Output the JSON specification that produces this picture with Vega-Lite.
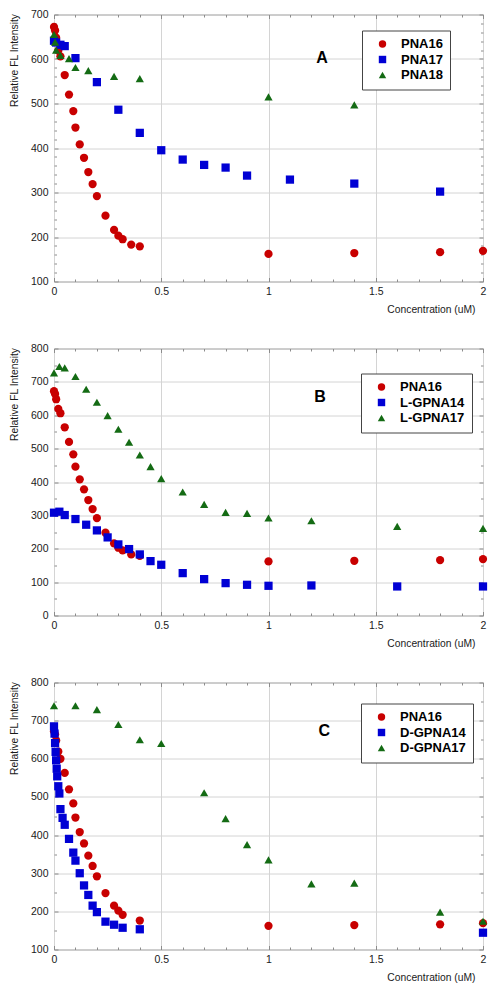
{
  "$schema": "https://vega.github.io/schema/vega-lite/v6.json",
  "padding": {"left": 8, "top": 8.5, "right": 5, "bottom": 5},
  "background": "white",
  "bounds": "flush",
  "spacing": 67,
  "datasets": {
    "A": [
      {"x": 0, "y": 672, "series": "PNA16"}, {"x": 0.005, "y": 664, "series": "PNA16"}, {"x": 0.01, "y": 648, "series": "PNA16"}, {"x": 0.02, "y": 619, "series": "PNA16"}, {"x": 0.03, "y": 606, "series": "PNA16"}, {"x": 0.05, "y": 564, "series": "PNA16"}, {"x": 0.07, "y": 520, "series": "PNA16"}, {"x": 0.09, "y": 483, "series": "PNA16"}, {"x": 0.1, "y": 446, "series": "PNA16"}, {"x": 0.12, "y": 408, "series": "PNA16"}, {"x": 0.14, "y": 378, "series": "PNA16"}, {"x": 0.16, "y": 346, "series": "PNA16"}, {"x": 0.18, "y": 319, "series": "PNA16"}, {"x": 0.2, "y": 292, "series": "PNA16"}, {"x": 0.24, "y": 248, "series": "PNA16"}, {"x": 0.28, "y": 216, "series": "PNA16"}, {"x": 0.3, "y": 203, "series": "PNA16"}, {"x": 0.32, "y": 195, "series": "PNA16"}, {"x": 0.36, "y": 183, "series": "PNA16"}, {"x": 0.4, "y": 179, "series": "PNA16"}, {"x": 1, "y": 162, "series": "PNA16"}, {"x": 1.4, "y": 164, "series": "PNA16"}, {"x": 1.8, "y": 166, "series": "PNA16"}, {"x": 2, "y": 169, "series": "PNA16"},
      {"x": 0, "y": 641, "series": "PNA17"}, {"x": 0.01, "y": 637, "series": "PNA17"}, {"x": 0.03, "y": 632, "series": "PNA17"}, {"x": 0.05, "y": 629, "series": "PNA17"}, {"x": 0.1, "y": 602, "series": "PNA17"}, {"x": 0.2, "y": 548, "series": "PNA17"}, {"x": 0.3, "y": 486, "series": "PNA17"}, {"x": 0.4, "y": 434, "series": "PNA17"}, {"x": 0.5, "y": 395, "series": "PNA17"}, {"x": 0.6, "y": 374, "series": "PNA17"}, {"x": 0.7, "y": 362, "series": "PNA17"}, {"x": 0.8, "y": 356, "series": "PNA17"}, {"x": 0.9, "y": 338, "series": "PNA17"}, {"x": 1.1, "y": 329, "series": "PNA17"}, {"x": 1.4, "y": 320, "series": "PNA17"}, {"x": 1.8, "y": 302, "series": "PNA17"},
      {"x": 0, "y": 655, "series": "PNA18"}, {"x": 0.005, "y": 638, "series": "PNA18"}, {"x": 0.01, "y": 620, "series": "PNA18"}, {"x": 0.03, "y": 608, "series": "PNA18"}, {"x": 0.07, "y": 601, "series": "PNA18"}, {"x": 0.1, "y": 581, "series": "PNA18"}, {"x": 0.16, "y": 574, "series": "PNA18"}, {"x": 0.28, "y": 561, "series": "PNA18"}, {"x": 0.4, "y": 556, "series": "PNA18"}, {"x": 1, "y": 515, "series": "PNA18"}, {"x": 1.4, "y": 497, "series": "PNA18"}
    ],
    "B": [
      {"x": 0, "y": 672, "series": "PNA16"}, {"x": 0.005, "y": 664, "series": "PNA16"}, {"x": 0.01, "y": 648, "series": "PNA16"}, {"x": 0.02, "y": 619, "series": "PNA16"}, {"x": 0.03, "y": 606, "series": "PNA16"}, {"x": 0.05, "y": 564, "series": "PNA16"}, {"x": 0.07, "y": 520, "series": "PNA16"}, {"x": 0.09, "y": 483, "series": "PNA16"}, {"x": 0.1, "y": 446, "series": "PNA16"}, {"x": 0.12, "y": 408, "series": "PNA16"}, {"x": 0.14, "y": 378, "series": "PNA16"}, {"x": 0.16, "y": 346, "series": "PNA16"}, {"x": 0.18, "y": 319, "series": "PNA16"}, {"x": 0.2, "y": 292, "series": "PNA16"}, {"x": 0.24, "y": 248, "series": "PNA16"}, {"x": 0.28, "y": 216, "series": "PNA16"}, {"x": 0.3, "y": 203, "series": "PNA16"}, {"x": 0.32, "y": 195, "series": "PNA16"}, {"x": 0.36, "y": 183, "series": "PNA16"}, {"x": 0.4, "y": 179, "series": "PNA16"}, {"x": 1, "y": 162, "series": "PNA16"}, {"x": 1.4, "y": 164, "series": "PNA16"}, {"x": 1.8, "y": 166, "series": "PNA16"}, {"x": 2, "y": 169, "series": "PNA16"},
      {"x": 0, "y": 308, "series": "L-GPNA14"}, {"x": 0.025, "y": 311, "series": "L-GPNA14"}, {"x": 0.05, "y": 301, "series": "L-GPNA14"}, {"x": 0.1, "y": 289, "series": "L-GPNA14"}, {"x": 0.15, "y": 272, "series": "L-GPNA14"}, {"x": 0.2, "y": 255, "series": "L-GPNA14"}, {"x": 0.25, "y": 234, "series": "L-GPNA14"}, {"x": 0.3, "y": 213, "series": "L-GPNA14"}, {"x": 0.35, "y": 199, "series": "L-GPNA14"}, {"x": 0.4, "y": 183, "series": "L-GPNA14"}, {"x": 0.45, "y": 163, "series": "L-GPNA14"}, {"x": 0.5, "y": 152, "series": "L-GPNA14"}, {"x": 0.6, "y": 127, "series": "L-GPNA14"}, {"x": 0.7, "y": 109, "series": "L-GPNA14"}, {"x": 0.8, "y": 97, "series": "L-GPNA14"}, {"x": 0.9, "y": 92, "series": "L-GPNA14"}, {"x": 1, "y": 89, "series": "L-GPNA14"}, {"x": 1.2, "y": 90, "series": "L-GPNA14"}, {"x": 1.6, "y": 87, "series": "L-GPNA14"}, {"x": 2, "y": 87, "series": "L-GPNA14"},
      {"x": 0, "y": 727, "series": "L-GPNA17"}, {"x": 0.025, "y": 746, "series": "L-GPNA17"}, {"x": 0.05, "y": 742, "series": "L-GPNA17"}, {"x": 0.1, "y": 716, "series": "L-GPNA17"}, {"x": 0.15, "y": 678, "series": "L-GPNA17"}, {"x": 0.2, "y": 639, "series": "L-GPNA17"}, {"x": 0.25, "y": 599, "series": "L-GPNA17"}, {"x": 0.3, "y": 558, "series": "L-GPNA17"}, {"x": 0.35, "y": 519, "series": "L-GPNA17"}, {"x": 0.4, "y": 481, "series": "L-GPNA17"}, {"x": 0.45, "y": 446, "series": "L-GPNA17"}, {"x": 0.5, "y": 410, "series": "L-GPNA17"}, {"x": 0.6, "y": 370, "series": "L-GPNA17"}, {"x": 0.7, "y": 333, "series": "L-GPNA17"}, {"x": 0.8, "y": 309, "series": "L-GPNA17"}, {"x": 0.9, "y": 306, "series": "L-GPNA17"}, {"x": 1, "y": 292, "series": "L-GPNA17"}, {"x": 1.2, "y": 284, "series": "L-GPNA17"}, {"x": 1.6, "y": 267, "series": "L-GPNA17"}, {"x": 2, "y": 261, "series": "L-GPNA17"}
    ],
    "C": [
      {"x": 0, "y": 672, "series": "PNA16"}, {"x": 0.005, "y": 664, "series": "PNA16"}, {"x": 0.01, "y": 648, "series": "PNA16"}, {"x": 0.02, "y": 619, "series": "PNA16"}, {"x": 0.03, "y": 600, "series": "PNA16"}, {"x": 0.05, "y": 563, "series": "PNA16"}, {"x": 0.07, "y": 520, "series": "PNA16"}, {"x": 0.09, "y": 483, "series": "PNA16"}, {"x": 0.1, "y": 446, "series": "PNA16"}, {"x": 0.12, "y": 408, "series": "PNA16"}, {"x": 0.14, "y": 378, "series": "PNA16"}, {"x": 0.16, "y": 346, "series": "PNA16"}, {"x": 0.18, "y": 319, "series": "PNA16"}, {"x": 0.2, "y": 292, "series": "PNA16"}, {"x": 0.24, "y": 248, "series": "PNA16"}, {"x": 0.28, "y": 215, "series": "PNA16"}, {"x": 0.3, "y": 202, "series": "PNA16"}, {"x": 0.32, "y": 191, "series": "PNA16"}, {"x": 0.4, "y": 176, "series": "PNA16"}, {"x": 1, "y": 162, "series": "PNA16"}, {"x": 1.4, "y": 164, "series": "PNA16"}, {"x": 1.8, "y": 166, "series": "PNA16"}, {"x": 2, "y": 169, "series": "PNA16"},
      {"x": 0, "y": 685, "series": "D-GPNA14"}, {"x": 0.0025, "y": 666, "series": "D-GPNA14"}, {"x": 0.005, "y": 641, "series": "D-GPNA14"}, {"x": 0.0075, "y": 618, "series": "D-GPNA14"}, {"x": 0.01, "y": 596, "series": "D-GPNA14"}, {"x": 0.0125, "y": 574, "series": "D-GPNA14"}, {"x": 0.015, "y": 554, "series": "D-GPNA14"}, {"x": 0.02, "y": 528, "series": "D-GPNA14"}, {"x": 0.025, "y": 509, "series": "D-GPNA14"}, {"x": 0.03, "y": 468, "series": "D-GPNA14"}, {"x": 0.04, "y": 445, "series": "D-GPNA14"}, {"x": 0.05, "y": 427, "series": "D-GPNA14"}, {"x": 0.07, "y": 390, "series": "D-GPNA14"}, {"x": 0.09, "y": 354, "series": "D-GPNA14"}, {"x": 0.1, "y": 333, "series": "D-GPNA14"}, {"x": 0.12, "y": 300, "series": "D-GPNA14"}, {"x": 0.14, "y": 268, "series": "D-GPNA14"}, {"x": 0.16, "y": 243, "series": "D-GPNA14"}, {"x": 0.18, "y": 215, "series": "D-GPNA14"}, {"x": 0.2, "y": 198, "series": "D-GPNA14"}, {"x": 0.24, "y": 173, "series": "D-GPNA14"}, {"x": 0.28, "y": 165, "series": "D-GPNA14"}, {"x": 0.32, "y": 157, "series": "D-GPNA14"}, {"x": 0.4, "y": 153, "series": "D-GPNA14"}, {"x": 2, "y": 144, "series": "D-GPNA14"},
      {"x": 0, "y": 739, "series": "D-GPNA17"}, {"x": 0.1, "y": 739, "series": "D-GPNA17"}, {"x": 0.2, "y": 729, "series": "D-GPNA17"}, {"x": 0.3, "y": 690, "series": "D-GPNA17"}, {"x": 0.4, "y": 650, "series": "D-GPNA17"}, {"x": 0.5, "y": 640, "series": "D-GPNA17"}, {"x": 0.7, "y": 511, "series": "D-GPNA17"}, {"x": 0.8, "y": 443, "series": "D-GPNA17"}, {"x": 0.9, "y": 375, "series": "D-GPNA17"}, {"x": 1, "y": 335, "series": "D-GPNA17"}, {"x": 1.2, "y": 272, "series": "D-GPNA17"}, {"x": 1.4, "y": 274, "series": "D-GPNA17"}, {"x": 1.8, "y": 198, "series": "D-GPNA17"}, {"x": 2, "y": 174, "series": "D-GPNA17"}
    ]
  },
  "vconcat": [
    {
      "width": 429, "height": 267,
      "data": {"name": "A"},
      "layer": [
        {
          "mark": {"type": "point", "filled": true, "opacity": 1, "size": 68, "clip": false},
          "encoding": {
            "x": {"field": "x", "type": "quantitative", "scale": {"domain": [0, 2], "nice": false, "zero": false},
              "axis": {"orient": "bottom", "values": [0,0.1,0.2,0.3,0.4,0.5,0.6,0.7,0.8,0.9,1,1.1,1.2,1.3,1.4,1.5,1.6,1.7,1.8,1.9,2], "format": "~g",
                "labelExpr": "abs(datum.value*2 - round(datum.value*2)) < 0.001 ? datum.label : ''",
                "grid": true, "gridOpacity": {"condition": {"test": "abs(datum.value*2 - round(datum.value*2)) < 0.001", "value": 1}, "value": 0},
                "tickSize": {"condition": {"test": "abs(datum.value*2 - round(datum.value*2)) < 0.001", "value": -4}, "value": -2.5},
                "labelPadding": 9,
                "title": "Concentration (uM)", "titleAlign": "right", "titleBaseline": "alphabetic", "titleX": 421, "titleY": 31}},
            "y": {"field": "y", "type": "quantitative", "scale": {"domain": [100, 700], "nice": false, "zero": false},
              "axis": {"orient": "left", "values": [100,120,140,160,180,200,220,240,260,280,300,320,340,360,380,400,420,440,460,480,500,520,540,560,580,600,620,640,660,680,700], "format": "d",
                "labelExpr": "datum.value % 100 == 0 ? datum.label : ''",
                "grid": true, "gridOpacity": {"condition": {"test": "datum.value % 100 == 0", "value": 1}, "value": 0},
                "tickSize": {"condition": {"test": "datum.value % 100 == 0", "value": -4}, "value": -2.5},
                "labelPadding": 10,
                "title": "Relative FL Intensity", "titleAngle": -90, "titleAlign": "right", "titleBaseline": "middle", "titleX": -40, "titleY": -1}},
            "color": {"field": "series", "type": "nominal", "scale": {"domain": ["PNA16", "PNA17", "PNA18"], "range": ["#c80000", "#0000d4", "#146b14"]},
              "legend": {"orient": "none", "legendX": 308, "legendY": 16, "title": null,
                "encode": {"labels": {"update": {"fill": {"signal": "datum.value === 'PNA16' ? '#c80000' : datum.value === 'PNA17' ? '#0000d4' : '#146b14'"}}}}}},
            "shape": {"field": "series", "type": "nominal", "scale": {"domain": ["PNA16", "PNA17", "PNA18"], "range": ["circle", "square", "triangle-up"]}}
          }
        },
        {
          "mark": {"type": "point", "opacity": 0},
          "encoding": {
            "x": {"field": "x", "type": "quantitative",
              "axis": {"orient": "top", "values": [0,0.1,0.2,0.3,0.4,0.5,0.6,0.7,0.8,0.9,1,1.1,1.2,1.3,1.4,1.5,1.6,1.7,1.8,1.9,2], "labels": false, "grid": false, "domain": false, "title": null,
                "tickSize": {"condition": {"test": "abs(datum.value*2 - round(datum.value*2)) < 0.001", "value": -4}, "value": -2.5}}},
            "y": {"field": "y", "type": "quantitative",
              "axis": {"orient": "right", "values": [100,120,140,160,180,200,220,240,260,280,300,320,340,360,380,400,420,440,460,480,500,520,540,560,580,600,620,640,660,680,700], "labels": false, "grid": false, "domain": false, "title": null,
                "tickSize": {"condition": {"test": "datum.value % 100 == 0", "value": -4}, "value": -2.5}}}
          }
        },
        {
          "data": {"values": [{"x": 1.25, "y": 602, "label": "A"}]},
          "mark": {"type": "text", "fontSize": 16, "fontWeight": "bold", "color": "black"},
          "encoding": {
            "x": {"field": "x", "type": "quantitative", "axis": null},
            "y": {"field": "y", "type": "quantitative", "axis": null},
            "text": {"field": "label"}
          }
        }
      ],
      "resolve": {"axis": {"x": "independent", "y": "independent"}}
    },
    {
      "width": 429, "height": 267,
      "data": {"name": "B"},
      "layer": [
        {
          "mark": {"type": "point", "filled": true, "opacity": 1, "size": 68, "clip": false},
          "encoding": {
            "x": {"field": "x", "type": "quantitative", "scale": {"domain": [0, 2], "nice": false, "zero": false},
              "axis": {"orient": "bottom", "values": [0,0.1,0.2,0.3,0.4,0.5,0.6,0.7,0.8,0.9,1,1.1,1.2,1.3,1.4,1.5,1.6,1.7,1.8,1.9,2], "format": "~g",
                "labelExpr": "abs(datum.value*2 - round(datum.value*2)) < 0.001 ? datum.label : ''",
                "grid": true, "gridOpacity": {"condition": {"test": "abs(datum.value*2 - round(datum.value*2)) < 0.001", "value": 1}, "value": 0},
                "tickSize": {"condition": {"test": "abs(datum.value*2 - round(datum.value*2)) < 0.001", "value": -4}, "value": -2.5},
                "labelPadding": 9,
                "title": "Concentration (uM)", "titleAlign": "right", "titleBaseline": "alphabetic", "titleX": 421, "titleY": 31}},
            "y": {"field": "y", "type": "quantitative", "scale": {"domain": [0, 800], "nice": false, "zero": false},
              "axis": {"orient": "left", "values": [0,50,100,150,200,250,300,350,400,450,500,550,600,650,700,750,800], "format": "d",
                "labelExpr": "datum.value % 100 == 0 ? datum.label : ''",
                "grid": true, "gridOpacity": {"condition": {"test": "datum.value % 100 == 0", "value": 1}, "value": 0},
                "tickSize": {"condition": {"test": "datum.value % 100 == 0", "value": -4}, "value": -2.5},
                "labelPadding": 10,
                "title": "Relative FL Intensity", "titleAngle": -90, "titleAlign": "right", "titleBaseline": "middle", "titleX": -40, "titleY": -1}},
            "color": {"field": "series", "type": "nominal", "scale": {"domain": ["PNA16", "L-GPNA14", "L-GPNA17"], "range": ["#c80000", "#0000d4", "#146b14"]},
              "legend": {"orient": "none", "legendX": 307, "legendY": 25, "title": null,
                "encode": {"labels": {"update": {"fill": {"signal": "datum.value === 'PNA16' ? '#c80000' : datum.value === 'L-GPNA14' ? '#0000d4' : '#146b14'"}}}}}},
            "shape": {"field": "series", "type": "nominal", "scale": {"domain": ["PNA16", "L-GPNA14", "L-GPNA17"], "range": ["circle", "square", "triangle-up"]}}
          }
        },
        {
          "mark": {"type": "point", "opacity": 0},
          "encoding": {
            "x": {"field": "x", "type": "quantitative",
              "axis": {"orient": "top", "values": [0,0.1,0.2,0.3,0.4,0.5,0.6,0.7,0.8,0.9,1,1.1,1.2,1.3,1.4,1.5,1.6,1.7,1.8,1.9,2], "labels": false, "grid": false, "domain": false, "title": null,
                "tickSize": {"condition": {"test": "abs(datum.value*2 - round(datum.value*2)) < 0.001", "value": -4}, "value": -2.5}}},
            "y": {"field": "y", "type": "quantitative",
              "axis": {"orient": "right", "values": [0,50,100,150,200,250,300,350,400,450,500,550,600,650,700,750,800], "labels": false, "grid": false, "domain": false, "title": null,
                "tickSize": {"condition": {"test": "datum.value % 100 == 0", "value": -4}, "value": -2.5}}}
          }
        },
        {
          "data": {"values": [{"x": 1.24, "y": 656, "label": "B"}]},
          "mark": {"type": "text", "fontSize": 16, "fontWeight": "bold", "color": "black"},
          "encoding": {
            "x": {"field": "x", "type": "quantitative", "axis": null},
            "y": {"field": "y", "type": "quantitative", "axis": null},
            "text": {"field": "label"}
          }
        }
      ],
      "resolve": {"axis": {"x": "independent", "y": "independent"}}
    },
    {
      "width": 429, "height": 267,
      "data": {"name": "C"},
      "layer": [
        {
          "mark": {"type": "point", "filled": true, "opacity": 1, "size": 68, "clip": false},
          "encoding": {
            "x": {"field": "x", "type": "quantitative", "scale": {"domain": [0, 2], "nice": false, "zero": false},
              "axis": {"orient": "bottom", "values": [0,0.1,0.2,0.3,0.4,0.5,0.6,0.7,0.8,0.9,1,1.1,1.2,1.3,1.4,1.5,1.6,1.7,1.8,1.9,2], "format": "~g",
                "labelExpr": "abs(datum.value*2 - round(datum.value*2)) < 0.001 ? datum.label : ''",
                "grid": true, "gridOpacity": {"condition": {"test": "abs(datum.value*2 - round(datum.value*2)) < 0.001", "value": 1}, "value": 0},
                "tickSize": {"condition": {"test": "abs(datum.value*2 - round(datum.value*2)) < 0.001", "value": -4}, "value": -2.5},
                "labelPadding": 9,
                "title": "Concentration (uM)", "titleAlign": "right", "titleBaseline": "alphabetic", "titleX": 421, "titleY": 31}},
            "y": {"field": "y", "type": "quantitative", "scale": {"domain": [100, 800], "nice": false, "zero": false},
              "axis": {"orient": "left", "values": [100,150,200,250,300,350,400,450,500,550,600,650,700,750,800], "format": "d",
                "labelExpr": "datum.value % 100 == 0 ? datum.label : ''",
                "grid": true, "gridOpacity": {"condition": {"test": "datum.value % 100 == 0", "value": 1}, "value": 0},
                "tickSize": {"condition": {"test": "datum.value % 100 == 0", "value": -4}, "value": -2.5},
                "labelPadding": 10,
                "title": "Relative FL Intensity", "titleAngle": -90, "titleAlign": "right", "titleBaseline": "middle", "titleX": -40, "titleY": -1}},
            "color": {"field": "series", "type": "nominal", "scale": {"domain": ["PNA16", "D-GPNA14", "D-GPNA17"], "range": ["#c80000", "#0000d4", "#146b14"]},
              "legend": {"orient": "none", "legendX": 307, "legendY": 21, "title": null,
                "encode": {"labels": {"update": {"fill": {"signal": "datum.value === 'PNA16' ? '#c80000' : datum.value === 'D-GPNA14' ? '#0000d4' : '#146b14'"}}}}}},
            "shape": {"field": "series", "type": "nominal", "scale": {"domain": ["PNA16", "D-GPNA14", "D-GPNA17"], "range": ["circle", "square", "triangle-up"]}}
          }
        },
        {
          "mark": {"type": "point", "opacity": 0},
          "encoding": {
            "x": {"field": "x", "type": "quantitative",
              "axis": {"orient": "top", "values": [0,0.1,0.2,0.3,0.4,0.5,0.6,0.7,0.8,0.9,1,1.1,1.2,1.3,1.4,1.5,1.6,1.7,1.8,1.9,2], "labels": false, "grid": false, "domain": false, "title": null,
                "tickSize": {"condition": {"test": "abs(datum.value*2 - round(datum.value*2)) < 0.001", "value": -4}, "value": -2.5}}},
            "y": {"field": "y", "type": "quantitative",
              "axis": {"orient": "right", "values": [100,150,200,250,300,350,400,450,500,550,600,650,700,750,800], "labels": false, "grid": false, "domain": false, "title": null,
                "tickSize": {"condition": {"test": "datum.value % 100 == 0", "value": -4}, "value": -2.5}}}
          }
        },
        {
          "data": {"values": [{"x": 1.26, "y": 672, "label": "C"}]},
          "mark": {"type": "text", "fontSize": 16, "fontWeight": "bold", "color": "black"},
          "encoding": {
            "x": {"field": "x", "type": "quantitative", "axis": null},
            "y": {"field": "y", "type": "quantitative", "axis": null},
            "text": {"field": "label"}
          }
        }
      ],
      "resolve": {"axis": {"x": "independent", "y": "independent"}}
    }
  ],
  "resolve": {"scale": {"color": "independent", "shape": "independent"}},
  "config": {
    "font": "Liberation Sans",
    "view": {"stroke": "#8c8c8c", "strokeWidth": 1},
    "axis": {
      "domain": false,
      "gridColor": "#d4d4d4", "gridWidth": 1,
      "tickColor": "#8c8c8c", "tickWidth": 1,
      "labelFontSize": 10.5, "labelColor": "#1a1a1a", "labelOverlap": false, "labelFlush": false, "labelPadding": 6,
      "titleFontSize": 10.3, "titleFontWeight": "normal", "titleColor": "#1a1a1a"
    },
    "legend": {
      "labelFontSize": 13, "labelFontWeight": "bold", "symbolSize": 55, "symbolStrokeWidth": 0,
      "strokeColor": "#444444", "fillColor": "white", "padding": 7, "cornerRadius": 0,
      "rowPadding": 1.5, "labelOffset": 12, "symbolOffset": 7
    }
  }
}
